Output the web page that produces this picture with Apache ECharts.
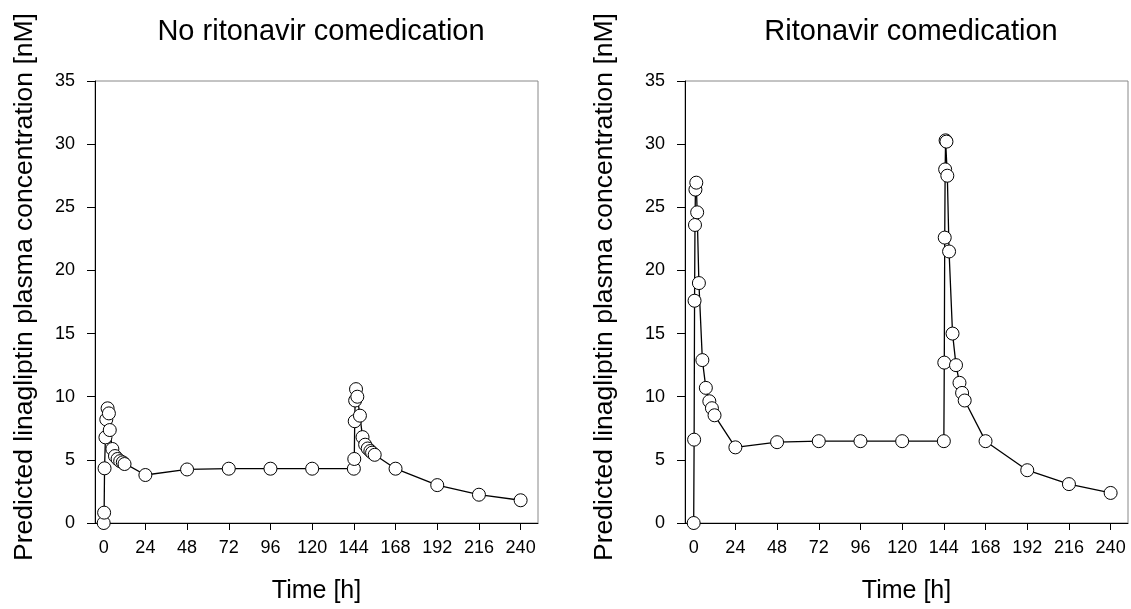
<!DOCTYPE html>
<html>
<head>
<meta charset="utf-8">
<script src="https://cdn.jsdelivr.net/npm/echarts@6/dist/echarts.min.js"></script>
<style>html,body{margin:0;padding:0;background:#fff}#c{width:1131px;height:609px}</style>
</head>
<body>
<div id="c"></div>
<script>
// ---- data ----
const xTicks = [0, 24, 48, 72, 96, 120, 144, 168, 192, 216, 240];
const yTicks = [0, 5, 10, 15, 20, 25, 30, 35];
const titleLeft = 'No ritonavir comedication';
const titleRight = 'Ritonavir comedication';
const xName = 'Time [h]';
const yName = 'Predicted linagliptin plasma concentration [nM]';

const timeNoRtv = [0, 0.25, 0.5, 1, 1.5, 2.25, 3, 3.5, 5, 6.5, 8, 9.5, 11, 12, 24, 48, 72, 96, 120,
  144, 144.25, 144.5, 144.75, 145.25, 146, 147.5, 149, 150.5, 152, 153.5, 154.5, 156, 168, 192, 216, 240];
const concNoRtv = [0, 0.82, 4.33, 6.78, 8.2, 9.08, 8.68, 7.36, 5.86, 5.3, 5.07, 4.9, 4.8, 4.67, 3.8, 4.24, 4.3, 4.3, 4.3,
  4.3, 5.07, 8.06, 9.7, 10.6, 10.0, 8.5, 6.8, 6.2, 5.9, 5.7, 5.57, 5.4, 4.3, 3.0, 2.24, 1.8];

const timeRtv = [0, 0.25, 0.5, 0.75, 1, 1.5, 2, 3, 5, 7, 9, 10.5, 12, 24, 48, 72, 96, 120,
  144, 144.25, 144.5, 144.75, 145, 145.5, 146, 147, 149, 151, 153, 154.5, 156, 168, 192, 216, 240];
const concRtv = [0, 6.6, 17.6, 23.6, 26.4, 26.95, 24.6, 19.0, 12.9, 10.7, 9.64, 9.09, 8.53, 5.99, 6.4, 6.48, 6.48, 6.48,
  6.48, 12.7, 22.6, 28.0, 30.3, 30.2, 27.5, 21.5, 15.0, 12.5, 11.1, 10.3, 9.7, 6.48, 4.18, 3.08, 2.38];

// ---- chart ----
const FONT = 'Liberation Sans, Arial, sans-serif';
function pairs(t, c) { return t.map((v, i) => [v, c[i]]); }

function xAxisCfg(gi) {
  return {
    gridIndex: gi, type: 'value', min: -5, max: 250,
    name: xName, nameLocation: 'middle', nameGap: 56,
    nameTextStyle: { fontFamily: FONT, fontSize: 25, color: '#000' },
    axisLine: { show: true, onZero: false, lineStyle: { color: '#000', width: 1 } },
    axisTick: { show: true, inside: false, length: 7, customValues: xTicks, lineStyle: { color: '#000' } },
    axisLabel: { customValues: xTicks, margin: 16, fontFamily: FONT, fontSize: 18, color: '#000' },
    splitLine: { show: false }
  };
}
function yAxisCfg(gi, gap) {
  return {
    gridIndex: gi, type: 'value', min: 0, max: 35, interval: 5,
    name: yName, nameLocation: 'middle', nameGap: gap,
    nameTextStyle: { fontFamily: FONT, fontSize: 26.5, color: '#000', padding: [0, 0, 0, 30] },
    axisLine: { show: true, onZero: false, lineStyle: { color: '#000', width: 1 } },
    axisTick: { show: true, inside: false, length: 8, lineStyle: { color: '#000' } },
    axisLabel: { margin: 20, fontFamily: FONT, fontSize: 18, color: '#000' },
    splitLine: { show: false }
  };
}
function seriesCfg(gi, t, c) {
  return {
    type: 'line', xAxisIndex: gi, yAxisIndex: gi,
    data: pairs(t, c),
    symbol: 'circle', symbolSize: 13, showAllSymbol: true,
    lineStyle: { color: '#000', width: 1.3 },
    itemStyle: { color: '#fff', borderColor: '#000', borderWidth: 1 },
    animation: false, z: 3
  };
}

const chart = echarts.init(document.getElementById('c'), null, { renderer: 'canvas' });
chart.setOption({
  animation: false,
  backgroundColor: '#fff',
  title: [
    { text: titleLeft, left: 316, top: 12, textAlign: 'center',
      textStyle: { fontFamily: FONT, fontSize: 29, fontWeight: 'normal', color: '#000' } },
    { text: titleRight, left: 906, top: 12, textAlign: 'center',
      textStyle: { fontFamily: FONT, fontSize: 29, fontWeight: 'normal', color: '#000' } }
  ],
  grid: [
    { left: 95, top: 81, width: 443, height: 442, show: true, borderColor: '#888', borderWidth: 1, backgroundColor: 'transparent' },
    { left: 685, top: 81, width: 443, height: 442, show: true, borderColor: '#888', borderWidth: 1, backgroundColor: 'transparent' }
  ],
  xAxis: [xAxisCfg(0), xAxisCfg(1)],
  yAxis: [yAxisCfg(0, 57), yAxisCfg(1, 67)],
  series: [seriesCfg(0, timeNoRtv, concNoRtv), seriesCfg(1, timeRtv, concRtv)]
});
</script>
</body>
</html>
